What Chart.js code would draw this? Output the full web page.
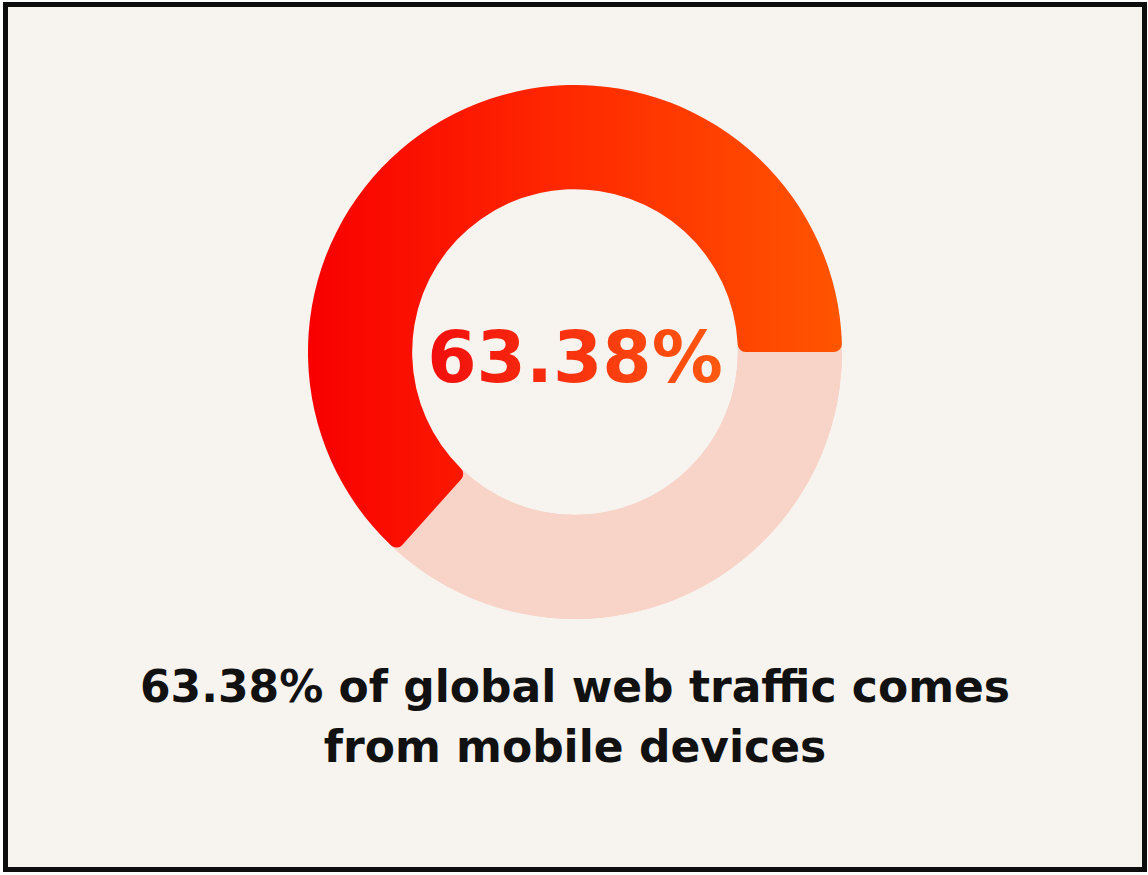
<!DOCTYPE html>
<html>
<head>
    <title>Mobile Web Traffic</title>
    <style>
        html, body {
            margin: 0;
            padding: 0;
            background-color: #fff;
        }

        .frame {
            position: absolute;
            left: 3px;
            top: 2px;
            width: 1134px;
            height: 860px;
            border: 5px solid #0d0d0d;
            background-color: #f7f4f0;
        }

        #chart-container {
            position: absolute;
            left: 300px;
            top: 78px;
            width: 534px;
            height: 534px;
        }

        .center-label {
            position: absolute;
            left: 300px;
            top: 311px;
            width: 534px;
            text-align: center;
            font-family: "DejaVu Sans", sans-serif;
            font-weight: bold;
            font-size: 71px;
            line-height: 80px;
            background: linear-gradient(90deg, #f20d0d 0%, #ff5a10 100%);
            background-size: 300px 100%;
            background-position: center;
            background-repeat: no-repeat;
            -webkit-background-clip: text;
            background-clip: text;
            color: transparent;
        }

        .caption {
            position: absolute;
            left: 0;
            top: 650px;
            width: 1134px;
            text-align: center;
            font-family: "DejaVu Sans", sans-serif;
            font-weight: bold;
            font-size: 44px;
            line-height: 60px;
            color: #111;
        }
    </style>
</head>
<body>
    <div class="frame">
        <div id="chart-container">
            <canvas id="chart"></canvas>
        </div>
        <div class="center-label" id="centerLabel"></div>
        <div class="caption">63.38% of global web traffic comes<br>from mobile devices</div>
    </div>

    <script src="https://cdn.jsdelivr.net/npm/chart.js"></script>
    <script>
const labels = ['Other devices', 'Mobile devices'];
const shares = [36.62, 63.38];
const mobileShare = shares[1];

document.getElementById('centerLabel').textContent = mobileShare.toFixed(2) + '%';

const paleColor = '#f8d3c8';

// pale ring sits under both segments so the rounded ends show pink behind them
const paleRing = {
  id: 'paleRing',
  beforeDatasetsDraw(chart) {
    const arc = chart.getDatasetMeta(0).data[0];
    if (!arc) return;
    const ctx = chart.ctx;
    ctx.save();
    ctx.beginPath();
    ctx.arc(arc.x, arc.y, arc.outerRadius, 0, Math.PI * 2);
    ctx.arc(arc.x, arc.y, arc.innerRadius, 0, Math.PI * 2, true);
    ctx.fillStyle = paleColor;
    ctx.fill();
    ctx.restore();
  }
};

function segmentColor(context) {
  if (context.dataIndex === 0) return paleColor;
  const area = context.chart.chartArea;
  if (!area) return '#ff2a00';
  const g = context.chart.ctx.createLinearGradient(area.left, 0, area.right, 0);
  g.addColorStop(0, '#f80000');
  g.addColorStop(0.5, '#ff2a00');
  g.addColorStop(1, '#ff5500');
  return g;
}

const ctx = document.getElementById('chart').getContext('2d');
new Chart(ctx, {
  type: 'doughnut',
  data: {
    labels: labels,
    datasets: [{
      data: shares,
      backgroundColor: segmentColor,
      borderWidth: 0,
      borderRadius: (c) => c.dataIndex === 0 ? 0 : 8
    }]
  },
  plugins: [paleRing],
  options: {
    responsive: true,
    maintainAspectRatio: false,
    animation: false,
    rotation: 90,
    cutout: '61%',
    plugins: {
      legend: { display: false },
      tooltip: { enabled: false }
    }
  }
});
    </script>
</body>
</html>
